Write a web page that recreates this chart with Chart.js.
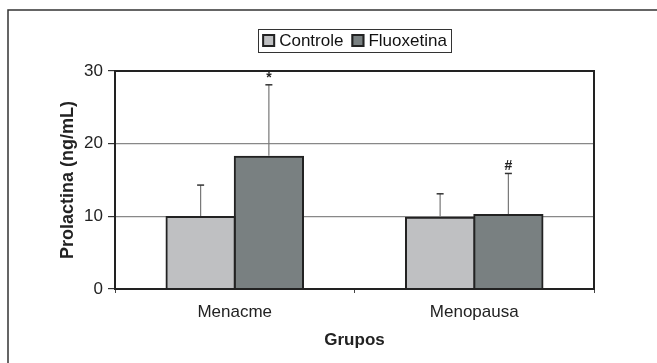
<!DOCTYPE html>
<html lang="pt">
<head>
    <meta charset="UTF-8">
    <title>Prolactina por grupo</title>
    <script src="https://cdn.jsdelivr.net/npm/chart.js@4.4.0/dist/chart.umd.min.js"></script>
    <style>
        html, body { margin: 0; padding: 0; background: #fff; }
        #wrap { width: 657px; height: 363px; position: relative; }
    </style>
</head>
<body>
    <div id="wrap"><canvas id="chart" width="657" height="363"></canvas></div>

    <script>
        // data
        const groups = ['Menacme', 'Menopausa'];
        const seriesNames = ['Controle', 'Fluoxetina'];
        const controle = [9.9, 9.8];
        const fluoxetina = [18.2, 10.2];
        const controleSD = [4.4, 3.3];
        const fluoxetinaSD = [9.9, 5.7];
        const controleMarks = ['', ''];
        const fluoxetinaMarks = ['*', '#'];
        const yTicks = [0, 10, 20, 30];

        const FONT = "'Liberation Sans', Arial, sans-serif";
        const DARK = '#222';

        // outer frame + plot box
        const framePlugin = {
            id: 'frame',
            beforeDraw(chart) {
                const ctx = chart.ctx;
                ctx.save();
                ctx.fillStyle = '#fff';
                ctx.fillRect(0, 0, chart.width, chart.height);
                ctx.strokeStyle = '#333';
                ctx.lineWidth = 1.5;
                ctx.strokeRect(8, 10, 800, 500);
                ctx.restore();
            },
            afterDraw(chart) {
                const {ctx, chartArea: a} = chart;
                ctx.save();
                ctx.strokeStyle = DARK;
                ctx.lineWidth = 2;
                ctx.strokeRect(a.left, a.top, a.right - a.left, a.bottom - a.top);
                ctx.restore();
            }
        };

        // upward SD bars and significance marks
        const errorPlugin = {
            id: 'errorBars',
            afterDatasetsDraw(chart) {
                const ctx = chart.ctx;
                const y = chart.scales.y;
                ctx.save();
                chart.data.datasets.forEach((ds, i) => {
                    const meta = chart.getDatasetMeta(i);
                    meta.data.forEach((bar, j) => {
                        const top = y.getPixelForValue(ds.data[j] + ds.sd[j]);
                        ctx.strokeStyle = '#777';
                        ctx.lineWidth = 1.2;
                        ctx.beginPath();
                        ctx.moveTo(bar.x, bar.y - 1);
                        ctx.lineTo(bar.x, top);
                        ctx.stroke();
                        ctx.strokeStyle = '#333';
                        ctx.lineWidth = 1.5;
                        ctx.beginPath();
                        ctx.moveTo(bar.x - 3.5, top);
                        ctx.lineTo(bar.x + 3.5, top);
                        ctx.stroke();
                        if (ds.marks[j]) {
                            ctx.fillStyle = '#222';
                            ctx.font = 'bold 14px ' + FONT;
                            ctx.textAlign = 'center';
                            ctx.textBaseline = 'middle';
                            ctx.fillText(ds.marks[j], bar.x, top - 7);
                        }
                    });
                });
                ctx.restore();
            }
        };

        // boxed legend centred over the plot
        const legendPlugin = {
            id: 'boxLegend',
            afterDraw(chart) {
                const {ctx, chartArea: a} = chart;
                ctx.save();
                ctx.font = '17px ' + FONT;
                const sq = 13, gapIn = 4, gapOut = 8, pad = 4;
                const items = chart.data.datasets.map(ds => ({
                    label: ds.label, color: ds.backgroundColor, w: ctx.measureText(ds.label).width
                }));
                let total = pad * 2;
                items.forEach((it, k) => { total += sq + gapIn + it.w + (k ? gapOut : 0); });
                const cx = (a.left + a.right) / 2;
                let x = cx - total / 2;
                const top = 29, h = 23, mid = top + h / 2;
                ctx.strokeStyle = '#333';
                ctx.lineWidth = 1;
                ctx.strokeRect(Math.round(x) + 0.5, top + 0.5, Math.round(total), h);
                x += pad;
                items.forEach((it, k) => {
                    if (k) x += gapOut;
                    ctx.fillStyle = it.color;
                    ctx.fillRect(x, mid - sq / 2, sq, sq);
                    ctx.strokeStyle = DARK;
                    ctx.lineWidth = 2;
                    ctx.strokeRect(x + 1, mid - sq / 2 + 1, sq - 2, sq - 2);
                    x += sq + gapIn;
                    ctx.fillStyle = '#111';
                    ctx.textAlign = 'left';
                    ctx.textBaseline = 'middle';
                    ctx.fillText(it.label, x, mid + 1);
                    x += it.w;
                });
                ctx.restore();
            }
        };

        new Chart(document.getElementById('chart'), {
            type: 'bar',
            data: {
                labels: groups,
                datasets: [
                    {
                        label: seriesNames[0], data: controle, sd: controleSD, marks: controleMarks,
                        backgroundColor: '#bfc0c2', borderColor: DARK, borderWidth: 2, inflateAmount: 1
                    },
                    {
                        label: seriesNames[1], data: fluoxetina, sd: fluoxetinaSD, marks: fluoxetinaMarks,
                        backgroundColor: '#798081', borderColor: DARK, borderWidth: 2, inflateAmount: 1
                    }
                ]
            },
            options: {
                responsive: false,
                animation: false,
                layout: { padding: { left: 0, top: 71, right: 63, bottom: 0 } },
                datasets: { bar: { categoryPercentage: 0.57, barPercentage: 1 } },
                plugins: { legend: { display: false }, tooltip: { enabled: false } },
                scales: {
                    x: {
                        afterFit(s) { s.height = 74; },
                        grid: { drawOnChartArea: false, tickLength: 4, color: '#444', tickColor: '#444' },
                        border: { color: DARK, width: 2 },
                        ticks: { color: '#222', padding: 9, font: { family: FONT, size: 17 } },
                        title: {
                            display: true, text: 'Grupos', color: '#222',
                            font: { family: FONT, size: 17, weight: 'bold' },
                            padding: { top: 0, bottom: 12 }
                        }
                    },
                    y: {
                        min: 0, max: 30,
                        afterFit(s) { s.width = 115; },
                        afterBuildTicks(s) { s.ticks = yTicks.map(v => ({ value: v })); },
                        grid: { color: '#888', lineWidth: 1.2, tickLength: 7, tickColor: '#333' },
                        border: { color: DARK, width: 2 },
                        ticks: { color: '#222', padding: 5, font: { family: FONT, size: 17 } },
                        title: {
                            display: true, text: 'Prolactina (ng/mL)', color: '#222',
                            font: { family: FONT, size: 18, weight: 'bold' },
                            padding: { top: 57, bottom: 0 }
                        }
                    }
                }
            },
            plugins: [framePlugin, errorPlugin, legendPlugin]
        });
    </script>
</body>
</html>
